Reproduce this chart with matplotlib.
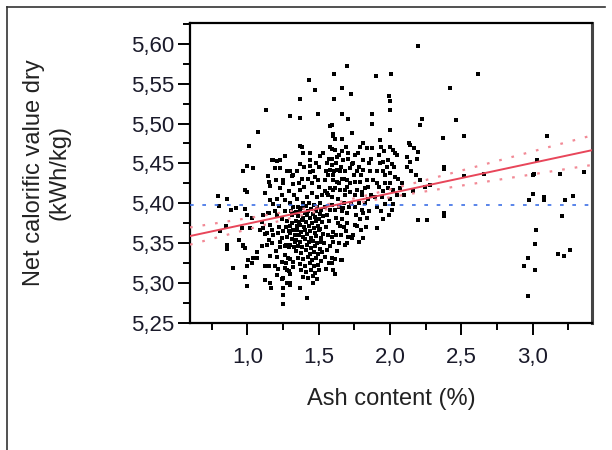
import numpy as np
import matplotlib.pyplot as plt
from matplotlib.lines import Line2D
from matplotlib.ticker import MultipleLocator, FuncFormatter

plt.rcParams['font.family'] = ['Liberation Sans', 'DejaVu Sans']

# (ash content %, net calorific value dry kWh/kg)
left_pts = [
    (0.79, 5.409), (0.86, 5.406), (0.80, 5.397), (0.885, 5.392), (0.92, 5.394), (0.85, 5.371),
    (0.81, 5.365), (0.86, 5.348), (0.86, 5.343), (0.90, 5.319), (0.94, 5.354), (0.967, 5.346),
    (0.97, 5.440), (0.994, 5.447), (1.04, 5.444), (0.98, 5.417), (0.999, 5.4145), (1.013, 5.472),
    (1.071, 5.489), (1.128, 5.517), (0.982, 5.3925), (0.994, 5.385), (1.029, 5.381), (1.016, 5.369),
    (0.959, 5.369), (0.97, 5.348), (0.982, 5.344), (1.065, 5.339), (1.041, 5.331), (1.006, 5.329),
    (1.029, 5.325), (0.994, 5.321), (0.982, 5.308), (0.994, 5.297), (1.111, 5.385), (1.146, 5.3875),
    (1.111, 5.369), (1.158, 5.373), (1.135, 5.3625), (1.10, 5.347), (1.135, 5.348), (1.07, 5.331),
    (1.158, 5.334), (1.12, 5.321), (1.15, 5.321), (1.123, 5.304), (1.158, 5.300), (1.167, 5.294),
    (1.146, 5.434), (1.158, 5.422), (1.126, 5.413), (1.16, 5.404), (1.15, 5.388), (1.10, 5.377),
    (1.085, 5.367), (1.126, 5.362), (1.15, 5.354), (1.17, 5.454), (1.15, 5.427),
]
inner_left_pts = [
    (1.181, 5.399), (1.223, 5.397), (1.17, 5.367), (1.181, 5.360), (1.216, 5.3625), (1.24, 5.356),
    (1.275, 5.358), (1.298, 5.3625), (1.32, 5.367), (1.17, 5.35), (1.228, 5.352), (1.263, 5.346),
    (1.298, 5.348), (1.333, 5.352), (1.205, 5.333), (1.24, 5.327), (1.286, 5.332), (1.32, 5.326),
    (1.19, 5.321), (1.215, 5.318), (1.26, 5.319), (1.28, 5.316), (1.30, 5.312), (1.29, 5.315),
    (1.251, 5.306), (1.298, 5.300), (1.25, 5.294), (1.25, 5.285), (1.25, 5.274), (1.30, 5.298),
    (1.18, 5.454), (1.21, 5.453), (1.228, 5.454), (1.263, 5.459), (1.19, 5.444), (1.228, 5.444),
    (1.275, 5.440), (1.298, 5.440), (1.32, 5.435), (1.20, 5.429), (1.251, 5.429), (1.31, 5.434),
    (1.228, 5.419), (1.251, 5.425), (1.32, 5.424), (1.205, 5.405), (1.263, 5.404), (1.298, 5.510),
    (1.19, 5.39), (1.21, 5.385), (1.24, 5.38), (1.26, 5.39), (1.28, 5.378), (1.30, 5.372),
    (1.33, 5.388), (1.27, 5.37), (1.30, 5.40), (1.32, 5.395), (1.24, 5.41), (1.29, 5.415),
    (1.33, 5.41), (1.31, 5.375), (1.325, 5.345), (1.30, 5.33), (1.315, 5.385), (1.29, 5.365),
    (1.335, 5.36), (1.31, 5.355), (1.32, 5.32), (1.29, 5.345), (1.305, 5.39), (1.20, 5.34),
    (1.23, 5.345), (1.26, 5.335), (1.22, 5.37), (1.25, 5.365), (1.27, 5.348), (1.21, 5.31),
    (1.24, 5.305), (1.28, 5.30), (1.27, 5.325),
]
core_pts = [
    (1.368, 5.507), (1.366, 5.531), (1.434, 5.554), (1.475, 5.542), (1.492, 5.512), (1.368, 5.472),
    (1.385, 5.470), (1.39, 5.4625), (1.44, 5.4625), (1.51, 5.459), (1.53, 5.463), (1.368, 5.449),
    (1.438, 5.454), (1.438, 5.447), (1.438, 5.439), (1.38, 5.431), (1.426, 5.431), (1.473, 5.433),
    (1.497, 5.429), (1.368, 5.417), (1.415, 5.408), (1.45, 5.4125), (1.485, 5.408), (1.52, 5.410),
    (1.35, 5.44), (1.40, 5.445), (1.46, 5.44), (1.48, 5.45), (1.50, 5.445), (1.36, 5.425),
    (1.40, 5.42), (1.455, 5.425), (1.50, 5.42), (1.345, 5.405), (1.39, 5.40), (1.43, 5.40),
    (1.47, 5.398), (1.51, 5.40),
    (1.352, 5.396), (1.381, 5.394), (1.409, 5.397), (1.447, 5.393), (1.488, 5.396), (1.517, 5.392),
    (1.338, 5.389), (1.369, 5.391), (1.402, 5.388), (1.428, 5.390), (1.461, 5.387), (1.479, 5.391),
    (1.508, 5.386), (1.356, 5.384), (1.391, 5.382), (1.418, 5.385), (1.441, 5.381), (1.472, 5.383),
    (1.499, 5.380), (1.528, 5.384), (1.343, 5.378), (1.362, 5.376), (1.384, 5.379), (1.413, 5.377),
    (1.452, 5.375), (1.481, 5.378), (1.522, 5.376), (1.349, 5.371), (1.372, 5.373), (1.398, 5.370),
    (1.433, 5.372), (1.466, 5.369), (1.493, 5.372), (1.512, 5.368), (1.346, 5.366), (1.379, 5.364),
    (1.407, 5.367), (1.438, 5.365), (1.471, 5.363), (1.502, 5.366), (1.531, 5.362), (1.361, 5.360),
    (1.389, 5.358), (1.421, 5.361), (1.449, 5.357), (1.483, 5.359), (1.516, 5.356), (1.341, 5.354),
    (1.368, 5.352), (1.401, 5.355), (1.429, 5.351), (1.458, 5.353), (1.487, 5.350), (1.519, 5.352),
    (1.353, 5.347), (1.386, 5.345), (1.416, 5.348), (1.444, 5.344), (1.476, 5.346), (1.507, 5.343),
    (1.339, 5.340), (1.373, 5.338), (1.408, 5.341), (1.436, 5.337), (1.468, 5.339), (1.497, 5.336),
    (1.526, 5.339), (1.358, 5.332), (1.393, 5.330), (1.423, 5.333), (1.452, 5.329), (1.484, 5.331),
    (1.513, 5.328), (1.366, 5.324), (1.404, 5.322), (1.437, 5.325), (1.466, 5.321), (1.494, 5.323),
    (1.377, 5.316), (1.414, 5.314), (1.446, 5.317), (1.474, 5.313), (1.503, 5.316), (1.392, 5.308),
    (1.427, 5.306), (1.461, 5.309), (1.486, 5.305), (1.368, 5.294), (1.415, 5.281), (1.457, 5.300),
]
mid_pts = [
    (1.576, 5.497), (1.604, 5.562), (1.604, 5.531), (1.664, 5.544), (1.70, 5.572), (1.727, 5.537),
    (1.665, 5.512), (1.707, 5.506), (1.59, 5.498), (1.597, 5.485), (1.60, 5.4875), (1.611, 5.481),
    (1.661, 5.481), (1.73, 5.488), (1.58, 5.471), (1.594, 5.468), (1.614, 5.467), (1.707, 5.4625),
    (1.626, 5.458), (1.672, 5.454), (1.59, 5.456), (1.731, 5.449), (1.59, 5.448), (1.626, 5.442),
    (1.602, 5.435), (1.649, 5.440), (1.684, 5.44), (1.719, 5.444), (1.567, 5.435), (1.579, 5.442),
    (1.543, 5.429), (1.602, 5.429), (1.626, 5.427), (1.661, 5.431), (1.696, 5.429), (1.719, 5.425),
    (1.555, 5.4125), (1.602, 5.417), (1.579, 5.419), (1.614, 5.419), (1.649, 5.417), (1.684, 5.417),
    (1.719, 5.4145), (1.59, 5.408), (1.637, 5.406), (1.684, 5.41),
    (1.59, 5.398), (1.614, 5.392), (1.661, 5.39), (1.696, 5.3875), (1.649, 5.371), (1.602, 5.3645),
    (1.59, 5.358), (1.602, 5.352), (1.579, 5.346), (1.707, 5.358), (1.731, 5.356), (1.696, 5.35),
    (1.661, 5.329), (1.59, 5.331), (1.59, 5.325), (1.602, 5.317), (1.614, 5.312), (1.672, 5.394),
    (1.684, 5.348), (1.719, 5.358),
    (1.545, 5.395), (1.56, 5.385), (1.575, 5.378), (1.55, 5.37), (1.565, 5.36), (1.54, 5.35),
    (1.56, 5.342), (1.545, 5.333), (1.57, 5.325), (1.55, 5.318), (1.58, 5.392), (1.62, 5.382),
    (1.635, 5.375), (1.62, 5.36), (1.64, 5.35), (1.63, 5.34), (1.615, 5.33), (1.64, 5.395),
    (1.66, 5.38), (1.675, 5.37), (1.69, 5.365), (1.70, 5.375), (1.655, 5.36), (1.68, 5.40),
    (1.71, 5.395), (1.725, 5.40), (1.565, 5.41), (1.545, 5.415), (1.56, 5.45), (1.55, 5.44),
    (1.575, 5.455), (1.62, 5.45), (1.64, 5.46), (1.66, 5.465), (1.69, 5.47), (1.705, 5.455),
    (1.68, 5.43), (1.70, 5.42), (1.64, 5.425), (1.61, 5.44), (1.655, 5.445), (1.653, 5.329),
]
upper_mid_pts = [
    (1.754, 5.460), (1.777, 5.4625), (1.812, 5.475), (1.789, 5.471), (1.836, 5.469), (1.871, 5.469),
    (1.812, 5.454), (1.766, 5.44), (1.812, 5.442), (1.859, 5.44), (1.754, 5.427), (1.789, 5.427),
    (1.836, 5.429), (1.882, 5.429), (1.766, 5.417), (1.801, 5.4145), (1.824, 5.419), (1.754, 5.41),
    (1.801, 5.41), (1.847, 5.406), (1.754, 5.396), (1.801, 5.392), (1.812, 5.3875), (1.836, 5.381),
    (1.754, 5.373), (1.766, 5.371), (1.812, 5.356), (1.871, 5.512), (1.871, 5.499), (1.74, 5.45),
    (1.78, 5.445), (1.85, 5.45), (1.87, 5.455), (1.75, 5.435), (1.80, 5.435), (1.845, 5.42),
    (1.865, 5.41), (1.78, 5.40), (1.825, 5.40), (1.76, 5.385), (1.79, 5.38), (1.85, 5.39),
    (1.795, 5.366), (1.74, 5.36), (1.78, 5.352), (1.83, 5.37),
]
right_mid_pts = [
    (1.899, 5.559), (1.929, 5.479), (1.999, 5.528), (1.999, 5.517), (1.995, 5.534), (2.008, 5.562),
    (1.999, 5.492), (1.999, 5.471), (2.022, 5.467), (2.034, 5.4625), (2.046, 5.460), (1.952, 5.452),
    (1.987, 5.454), (2.011, 5.449), (1.906, 5.44), (1.952, 5.44), (1.964, 5.435), (1.999, 5.4375),
    (2.034, 5.433), (2.057, 5.431), (1.906, 5.425), (1.964, 5.425), (1.987, 5.419), (2.022, 5.417),
    (1.894, 5.408), (1.941, 5.408), (1.999, 5.406), (2.046, 5.41), (1.964, 5.399), (2.022, 5.399),
    (2.011, 5.392), (1.906, 5.369), (1.92, 5.46), (1.94, 5.47), (1.96, 5.465), (1.93, 5.45),
    (1.98, 5.445), (2.03, 5.445), (1.92, 5.42), (1.95, 5.415), (2.0, 5.425), (1.91, 5.395),
    (1.94, 5.39), (1.95, 5.38), (1.99, 5.385),
]
far_pts = [
    (2.081, 5.425), (2.069, 5.419), (2.116, 5.458), (2.14, 5.452), (2.116, 5.446), (2.135, 5.475),
    (2.198, 5.4645), (2.21, 5.429), (2.245, 5.421), (2.28, 5.423), (2.222, 5.506), (2.21, 5.498),
    (2.197, 5.597), (2.198, 5.379), (2.257, 5.379), (2.14, 5.473), (2.167, 5.469), (2.15, 5.44),
    (2.18, 5.435), (2.10, 5.41), (2.16, 5.415), (2.19, 5.455),
    (2.418, 5.544), (2.462, 5.504), (2.369, 5.482), (2.520, 5.484), (2.618, 5.562), (2.38, 5.446),
    (2.38, 5.443), (2.520, 5.434), (2.661, 5.437), (3.098, 5.484), (3.028, 5.454), (3.004, 5.435),
    (3.01, 5.437), (3.196, 5.437), (3.362, 5.439), (2.378, 5.388), (2.378, 5.384), (3.0, 5.412),
    (2.972, 5.404), (3.081, 5.408), (3.081, 5.404), (3.227, 5.404), (3.281, 5.409), (3.21, 5.384),
    (3.025, 5.366), (3.014, 5.349), (2.969, 5.331), (2.941, 5.321), (3.014, 5.317), (2.969, 5.284),
    (3.18, 5.337), (3.222, 5.334), (3.266, 5.341),
]

# fitted line, its confidence band and the mean of the response
fit_intercept = 5.3362
fit_slope = 0.03816
ci_center = 1.62
ci_base = 0.00297
ci_spread = 0.01016
ncv_mean = 5.398

x_range = (0.597, 3.417)
y_range = (5.25, 5.626)
x_ticks = [1.0, 1.5, 2.0, 2.5, 3.0]
y_ticks = [5.25, 5.30, 5.35, 5.40, 5.45, 5.50, 5.55, 5.60]

pts = np.array(left_pts + inner_left_pts + core_pts + mid_pts + upper_mid_pts + right_mid_pts + far_pts)
ash, ncv = pts[:, 0], pts[:, 1]

fig = plt.figure(figsize=(6.12, 4.5), dpi=100)
ax = fig.add_axes([190 / 612, 1 - 323 / 450, 402 / 612, 300 / 450])

# the points
ax.plot(ash, ncv, 's', color='black', markersize=2.7, markeredgewidth=0, zorder=2)

# regression line with dotted confidence band
xs = np.linspace(x_range[0], x_range[1], 200)
fit = fit_intercept + fit_slope * xs
half = np.sqrt(ci_base ** 2 + ci_spread ** 2 * (xs - ci_center) ** 2)
ax.plot(xs, fit, color='#e8465a', linewidth=1.4, zorder=4)
ax.plot(xs, fit + half, color='#f28a96', linewidth=1.6, linestyle=(0, (1.2, 4.5)), zorder=3)
ax.plot(xs, fit - half, color='#f28a96', linewidth=1.6, linestyle=(0, (1.2, 4.5)), zorder=3)

# mean line
ax.axhline(ncv_mean, color='#3c6fe6', linewidth=1.2, linestyle=(0, (2.2, 5.2)), zorder=3)

ax.set_xlim(*x_range)
ax.set_ylim(*y_range)

comma = lambda fmt: FuncFormatter(lambda v, p: format(v, fmt).replace('.', ','))
ax.set_xticks(x_ticks)
ax.set_yticks(y_ticks)
ax.xaxis.set_major_formatter(comma('.1f'))
ax.yaxis.set_major_formatter(comma('.2f'))
ax.xaxis.set_minor_locator(MultipleLocator(0.25))
ax.yaxis.set_minor_locator(MultipleLocator(0.025))
ax.tick_params(which='major', length=8.6, width=1.4, labelsize=16, colors='black', labelcolor='#1a1a2a')
ax.tick_params(which='minor', length=5, width=1.4, colors='black')
ax.tick_params(axis='x', which='major', pad=9)
ax.tick_params(axis='y', which='major', pad=3)

for side in ['left', 'bottom', 'top']:
    ax.spines[side].set_linewidth(1.6)
ax.spines['right'].set_linewidth(2.2)
ax.spines['right'].set_color('#444444')

ax.set_xlabel('Ash content (%)', fontsize=17, color='#222222')
ax.xaxis.label.set_va('center')
ax.xaxis.set_label_coords(0.5, -0.253)
ax.set_ylabel('Net calorific value dry\n(kWh/kg)', fontsize=17, color='#222222', linespacing=1.2)
ax.yaxis.label.set_va('center')
ax.yaxis.set_label_coords(-0.356, 0.5)

# frame around the picture (only left and top edges visible)
fig.add_artist(Line2D([7 / 612, 605 / 612], [1 - 7 / 450, 1 - 7 / 450], color='#333333', linewidth=1.2))
fig.add_artist(Line2D([7 / 612, 7 / 612], [0, 1 - 7 / 450], color='#333333', linewidth=1.2))

fig.savefig('out.png', dpi=100)
